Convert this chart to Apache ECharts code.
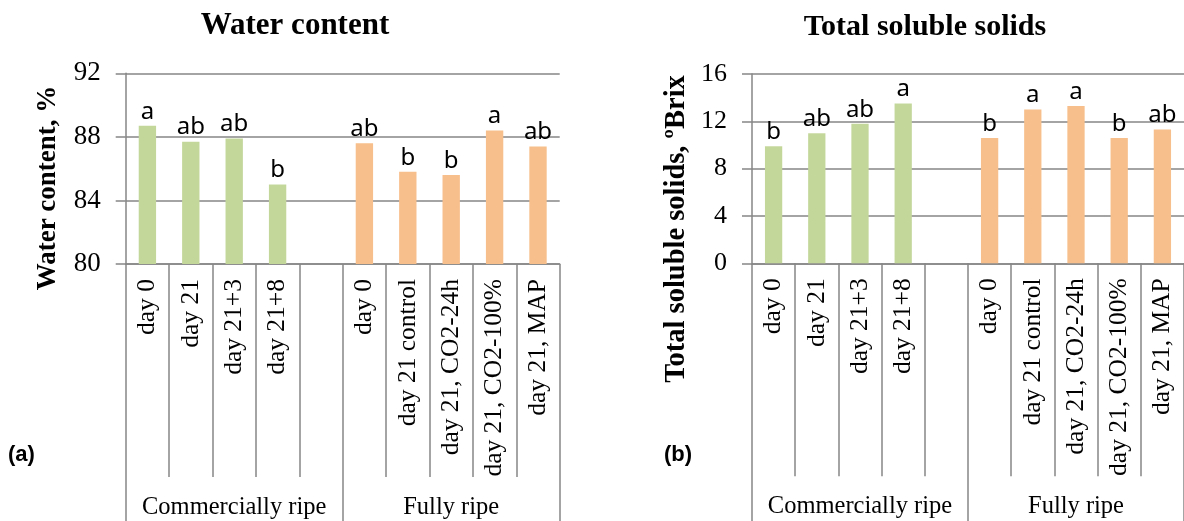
<!DOCTYPE html>
<html>
<head>
<meta charset="utf-8">
<script src="https://cdn.jsdelivr.net/npm/echarts@6/dist/echarts.min.js"></script>
<style>
  html, body { margin: 0; padding: 0; background: #ffffff; }
  #chart { width: 1184px; height: 521px; }
</style>
</head>
<body>
<div id="chart"></div>
<script>
// Treatments along the category axis (blank slot separates the ripeness groups)
const categories = ['day 0', 'day 21', 'day 21+3', 'day 21+8', '',
  'day 0', 'day 21 control', 'day 21, CO2-24h', 'day 21, CO2-100%', 'day 21, MAP'];
const groups = ['Commercially ripe', 'Fully ripe'];

// Water content, %
const waterCommercial = [88.7, 87.7, 87.9, 85.0];
const waterFull = [87.6, 85.8, 85.6, 88.4, 87.4];
const waterLetters = ['a', 'ab', 'ab', 'b', '', 'ab', 'b', 'b', 'a', 'ab'];
const waterTicks = [80, 84, 88, 92];

// Total soluble solids, ºBrix
const tssCommercial = [9.9, 11.0, 11.8, 13.5];
const tssFull = [10.6, 13.0, 13.3, 10.6, 11.3];
const tssLetters = ['b', 'ab', 'ab', 'a', '', 'b', 'a', 'a', 'b', 'ab'];
const tssTicks = [0, 4, 8, 12, 16];

const GREEN = '#c4d79b';
const ORANGE = '#f7bf8b';
const GRID_GRAY = '#868686';
const SERIF = "'Liberation Serif', 'Times New Roman', serif";
const SANS = "'Noto Sans', 'Liberation Sans', sans-serif";

// place commercial values in slots 0-3, fully ripe values in slots 5-9
function commercialData(vals) {
  return categories.map((c, i) => (i < vals.length ? vals[i] : '-'));
}
function fullData(vals) {
  return categories.map((c, i) => (i >= 5 ? vals[i - 5] : '-'));
}

function valueAxis(gridIndex, ticks, fontSize) {
  return {
    type: 'value', gridIndex,
    min: ticks[0], max: ticks[ticks.length - 1],
    interval: ticks[1] - ticks[0],
    axisLine: { show: true, lineStyle: { color: GRID_GRAY, width: 1.5 } },
    axisTick: { show: true, length: 10, lineStyle: { color: GRID_GRAY, width: 1.5 } },
    splitLine: { show: true, lineStyle: { color: GRID_GRAY, width: 1.5 } },
    axisLabel: { color: '#000', fontFamily: SERIF, fontSize, margin: 25 }
  };
}

function categoryAxis(gridIndex) {
  return {
    type: 'category', gridIndex, data: categories, position: 'bottom',
    axisLine: { show: true, lineStyle: { color: GRID_GRAY, width: 1.5 } },
    axisTick: { show: true, interval: 0, alignWithLabel: false, length: 213,
      lineStyle: { color: GRID_GRAY, width: 1.5 } },
    axisLabel: { interval: 0, rotate: 90, margin: 15, color: '#000',
      fontFamily: SERIF, fontSize: 25.5 }
  };
}

function groupAxis(gridIndex) {
  return {
    type: 'category', gridIndex, data: groups, position: 'bottom',
    axisLine: { show: false },
    axisTick: { show: true, interval: 0, alignWithLabel: false, length: 262,
      lineStyle: { color: GRID_GRAY, width: 1.5 } },
    axisLabel: { interval: 0, margin: 231, color: '#000',
      fontFamily: SERIF, fontSize: 24.5 }
  };
}

function barSeries(axisIndex, data, color, letters) {
  return {
    type: 'bar', xAxisIndex: axisIndex, yAxisIndex: axisIndex === 0 ? 0 : 1,
    data, barWidth: '40%', barGap: '-100%',
    itemStyle: { color },
    label: {
      show: true, position: 'top', distance: 2,
      color: '#000', fontFamily: SANS, fontSize: 24,
      formatter: p => letters[p.dataIndex]
    }
  };
}

const chart = echarts.init(document.getElementById('chart'), null, { renderer: 'canvas' });

chart.setOption({
  animation: false,
  backgroundColor: '#ffffff',
  grid: [
    { left: 125.7, top: 73.3, width: 434, height: 190.7 },
    { left: 752, top: 74, width: 437.5, height: 189.3 }
  ],
  xAxis: [categoryAxis(0), groupAxis(0), categoryAxis(1), groupAxis(1)],
  yAxis: [valueAxis(0, waterTicks, 27), valueAxis(1, tssTicks, 26)],
  series: [
    barSeries(0, commercialData(waterCommercial), GREEN, waterLetters),
    barSeries(0, fullData(waterFull), ORANGE, waterLetters),
    barSeries(2, commercialData(tssCommercial), GREEN, tssLetters),
    barSeries(2, fullData(tssFull), ORANGE, tssLetters)
  ],
  graphic: [
    { type: 'text', x: 295, y: 26, style: { text: 'Water content', fill: '#000',
      font: `bold 31px ${SERIF}`, textAlign: 'center', textVerticalAlign: 'middle' } },
    { type: 'text', x: 925, y: 27, style: { text: 'Total soluble solids', fill: '#000',
      font: `bold 30px ${SERIF}`, textAlign: 'center', textVerticalAlign: 'middle' } },
    { type: 'text', x: 48, y: 188, rotation: Math.PI / 2, style: { text: 'Water content, %',
      fill: '#000', font: `bold 27px ${SERIF}`, textAlign: 'center', textVerticalAlign: 'middle' } },
    { type: 'text', x: 677, y: 229, rotation: Math.PI / 2, style: { text: 'Total soluble solids, ºBrix',
      fill: '#000', font: `bold 28.5px ${SERIF}`, textAlign: 'center', textVerticalAlign: 'middle' } },
    { type: 'text', x: 8, y: 455, style: { text: '(a)', fill: '#000',
      font: `bold 22px 'Liberation Sans', Arial, sans-serif`, textAlign: 'left', textVerticalAlign: 'middle' } },
    { type: 'text', x: 664, y: 455, style: { text: '(b)', fill: '#000',
      font: `bold 22px 'Liberation Sans', Arial, sans-serif`, textAlign: 'left', textVerticalAlign: 'middle' } }
  ]
});
</script>
</body>
</html>
